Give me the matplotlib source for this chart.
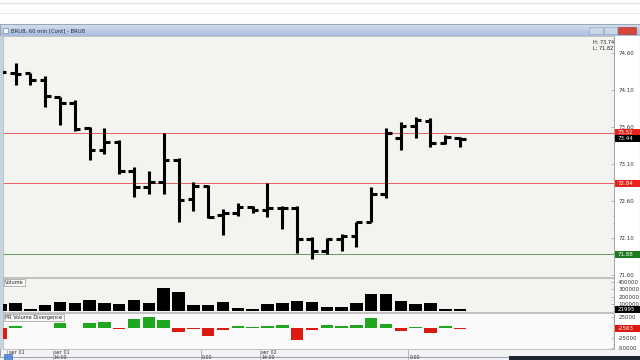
import matplotlib
matplotlib.use("Agg")
import matplotlib.pyplot as plt
from matplotlib.patches import Rectangle
import numpy as np

# ---------------- data ----------------
opens  = [74.38, 74.33, 74.33, 74.24, 74.01, 73.93, 73.59, 73.29, 73.40, 73.00,
          72.79, 72.86, 73.15, 72.63, 72.80, 72.41, 72.44, 72.52, 72.48, 72.50,
          72.51, 72.08, 71.93, 72.08, 72.13, 72.31, 72.70, 73.45, 73.61, 73.68,
          73.38, 73.45]
highs  = [74.40, 74.47, 74.33, 74.29, 74.01, 73.96, 73.60, 73.58, 73.42, 73.06,
          73.00, 73.52, 73.18, 72.86, 72.82, 72.49, 72.57, 72.53, 72.84, 72.53,
          72.53, 72.11, 72.10, 72.15, 72.32, 72.79, 73.58, 73.67, 73.74, 73.72,
          73.49, 73.46]
lows   = [74.30, 74.17, 74.17, 73.87, 73.63, 73.54, 73.15, 73.24, 72.96, 72.66,
          72.70, 72.70, 72.31, 72.46, 72.37, 72.14, 72.40, 72.44, 72.38, 72.22,
          71.90, 71.82, 71.88, 71.93, 71.98, 72.31, 72.64, 73.29, 73.45, 73.33,
          73.37, 73.33]
closes = [74.35, 74.32, 74.24, 74.02, 73.93, 73.57, 73.29, 73.40, 73.00, 72.79,
          72.86, 73.15, 72.62, 72.80, 72.39, 72.44, 72.52, 72.48, 72.50, 72.51,
          72.08, 71.93, 72.08, 72.13, 72.31, 72.70, 73.52, 73.61, 73.69, 73.39,
          73.46, 73.44]
volumes = [97000, 115000, 28000, 79000, 125000, 111000, 157000, 106000, 93000, 157000,
           106000, 315000, 259000, 88000, 79000, 130000, 37000, 23000, 97000, 111000,
           139000, 130000, 55000, 55000, 106000, 231000, 231000, 139000, 93000, 111000,
           23000, 21995]
divergence = [-27000, 4000, -2000, -2000, 12000, -1000, 10000, 14000, -4000, 20000,
              25000, 19000, -10000, -3000, -20000, -6000, 4000, 2000, 4000, 6000,
              -30000, -7000, 5000, 3000, 5000, 23000, 9000, -8000, 2000, -13000,
              4000, -3000]
price_ticks = [74.60, 74.10, 73.60, 73.10, 72.60, 72.10, 71.60]
volume_ticks = [400000, 300000, 200000, 100000]
div_ticks = [25000, -25000, -50000]
red_levels = [73.52, 72.84]
green_level = 71.88
last_price = 73.44
last_volume = 21995
last_div = -2563
high_low = (73.74, 71.82)
date_labels = [(0.45, "авг 01"), (3.5, "авг 01"), (17.5, "авг 02")]
time_labels = [(3.5, "14:00"), (13.5, "0:00"), (17.5, "14:00"), (27.5, "0:00")]
title = "BRU8, 60 min [Cont] - BRU8"

# ---------------- layout helpers ----------------
W, H = 640, 360
fig = plt.figure(figsize=(6.4, 3.6), dpi=100)
fig.patch.set_facecolor("white")

def px_axes(x0, y0, x1, y1, **kw):
    return fig.add_axes([x0 / W, 1 - y1 / H, (x1 - x0) / W, (y1 - y0) / H], **kw)

# chrome overlay (pixel coordinates)
bg = px_axes(0, 0, 640, 360)
bg.set_xlim(0, W); bg.set_ylim(H, 0); bg.axis("off"); bg.set_zorder(-5)
bg.plot([0, 640], [3, 3], color="#e2e2e2", lw=0.8)
bg.plot([0, 640], [13, 13], color="#e8e8e8", lw=0.8)
grad = np.linspace(0, 1, 20).reshape(-1, 1)
bg.imshow(grad, extent=(0, 640, 36, 24), cmap=matplotlib.colors.LinearSegmentedColormap.from_list(
    "tb", ["#d4e0f0", "#a8bedb"]), aspect="auto", zorder=1)
bg.add_patch(Rectangle((0, 24), 640, 333, fill=False, ec="#9aa7b8", lw=0.8, zorder=2))
bg.text(11, 30.5, title, fontsize=3.8, color="#1a2a40", va="center", ha="left", zorder=3)
bg.add_patch(Rectangle((2.5, 27.5), 5, 5, fc="#f4f4f4", ec="#6b7b90", lw=0.4, zorder=3))
bg.add_patch(Rectangle((589, 26.5), 14, 7.5, fc="#c9d6e8", ec="#8fa2bd", lw=0.4, zorder=3))
bg.add_patch(Rectangle((604, 26.5), 13, 7.5, fc="#c9d6e8", ec="#8fa2bd", lw=0.4, zorder=3))
bg.add_patch(Rectangle((618, 26.5), 18, 7.5, fc="#d8453a", ec="#a02a22", lw=0.4, zorder=3))
bg.add_patch(Rectangle((0, 36), 3, 313, fc="#c8d3e0", ec="none", zorder=2))
bg.add_patch(Rectangle((614, 36), 26, 313, fc="white", ec="none", zorder=1))
bg.add_patch(Rectangle((0, 349), 640, 11, fc="#f4f4f4", ec="none", zorder=1))
bg.add_patch(Rectangle((4, 354), 8, 6, fc="#5a8fd8", ec="#2d5ea8", lw=0.4, zorder=3))
bg.add_patch(Rectangle((509, 355.5), 131, 4.5, fc="#1d2430", ec="none", zorder=3))

LEFT, RIGHT = 3, 614
x0_px, dx_px = 0.7, 14.82
xlim = ((LEFT - x0_px) / dx_px, (RIGHT - x0_px) / dx_px)
idx = np.arange(len(opens))
lab_fs = 4.0
lab_col = "#333333"

def style_panel(ax, fc):
    ax.set_facecolor(fc)
    ax.set_xlim(*xlim)
    ax.set_xticks([])
    for s in ["top", "left", "bottom"]:
        ax.spines[s].set_color("#b8b8b8"); ax.spines[s].set_linewidth(0.6)
    ax.spines["right"].set_color("#999999"); ax.spines["right"].set_linewidth(0.6)
    ax.yaxis.tick_right()
    ax.tick_params(axis="y", which="both", direction="in", length=2, width=0.4,
                   colors="#888888", labelsize=lab_fs, labelcolor=lab_col, pad=3)
    ax.tick_params(axis="y", which="minor", length=1)

boxes = []  # (axes, value, text, facecolor) drawn on top overlay later

# ---------------- price panel ----------------
ax = px_axes(LEFT, 36, RIGHT, 277)
style_panel(ax, "#f3f3f0")
ylo = 74.60 - (277 - 53) / 74.0
yhi = 74.60 + (53 - 36) / 74.0
ax.set_ylim(ylo, yhi)
ax.set_yticks(price_ticks)
ax.set_yticklabels([f"{v:.2f}" for v in price_ticks])
ax.set_yticks(np.arange(71.6, 74.81, 0.1), minor=True)
for lv in red_levels:
    ax.axhline(lv, color="#e54848", lw=0.6, zorder=1)
ax.axhline(green_level, color="#4f8a4f", lw=0.6, zorder=1)
tick = 0.38
ax.vlines(idx, lows, highs, color="black", lw=2.2, zorder=3)
ax.hlines(opens, idx - tick, idx, color="black", lw=2.2, zorder=3)
ax.hlines(closes, idx, idx + tick, color="black", lw=2.2, zorder=3)
for lv in red_levels:
    boxes.append((ax, lv, f"{lv:.2f}", "#e8231b"))
boxes.append((ax, last_price, f"{last_price:.2f}", "black"))
boxes.append((ax, green_level, f"{green_level:.2f}", "#1d7a1d"))
ax.text(0.9995, 0.985, f"H: {high_low[0]:.2f}", transform=ax.transAxes, fontsize=3.6,
        ha="right", va="top", color="#222222")
ax.text(0.9995, 0.96, f"L: {high_low[1]:.2f}", transform=ax.transAxes, fontsize=3.6,
        ha="right", va="top", color="#222222")

# ---------------- volume panel ----------------
axv = px_axes(LEFT, 278, RIGHT, 312)
style_panel(axv, "#f3f3f0")
axv.set_ylim(-(312 - 311) / 7.2 * 1e5, (311 - 278) / 7.2 * 1e5)
axv.bar(idx, volumes, width=0.84, color="black", zorder=3)
axv.set_yticks(volume_ticks)
axv.set_yticklabels([str(v) for v in volume_ticks])
axv.set_yticks(np.arange(0, 450001, 50000), minor=True)
boxes.append((axv, last_volume, str(last_volume), "black"))
axv.text(0.004, 0.93, "Volume", transform=axv.transAxes, fontsize=3.6, ha="left", va="top",
         color="#222222", bbox=dict(boxstyle="square,pad=0.2", fc="#f8f8f8", ec="#888888", lw=0.4))

# ---------------- divergence panel ----------------
axd = px_axes(LEFT, 313, RIGHT, 349)
style_panel(axd, "#fafafa")
ppx = 25000 / 10.35
axd.set_ylim(-(349 - 327.5) * ppx, (327.5 - 313) * ppx)
cols = ["#1fa81f" if v >= 0 else "#dd1a12" for v in divergence]
axd.bar(idx, divergence, width=0.84, color=cols, zorder=3)
axd.set_yticks(div_ticks)
axd.set_yticklabels([str(v) for v in div_ticks])
axd.set_yticks(np.arange(-50000, 30001, 5000), minor=True)
boxes.append((axd, last_div, str(last_div), "#dd1a12"))
axd.text(0.004, 0.95, "PR Volume Divergence", transform=axd.transAxes, fontsize=3.6,
         ha="left", va="top", color="#222222",
         bbox=dict(boxstyle="square,pad=0.2", fc="#f8f8f8", ec="#888888", lw=0.4))

# ---------------- time axis ----------------
axt = px_axes(LEFT, 349, RIGHT, 360)
axt.set_xlim(*xlim); axt.set_ylim(11, 0); axt.axis("off")
for pos, lab in date_labels:
    axt.text(pos + 0.08, 3.0, lab, fontsize=3.4, ha="left", va="center", color="#333333")
for pos, lab in time_labels:
    axt.text(pos + 0.08, 8.6, lab, fontsize=3.4, ha="left", va="center", color="#333333")
for pos, _ in time_labels:
    axt.plot([pos, pos], [0.5, 11], color="#9a9a9a", lw=0.5)
axt.plot([0.45, 0.45], [0.5, 5], color="#9a9a9a", lw=0.5)

# ---------------- value boxes on top overlay ----------------
fg = px_axes(0, 0, 640, 360)
fg.set_xlim(0, W); fg.set_ylim(H, 0); fg.axis("off"); fg.set_zorder(20)
fg.patch.set_alpha(0)
for a, val, txt, fc in boxes:
    ypx = H - a.transData.transform((0, val))[1]
    fg.add_patch(Rectangle((614.5, ypx - 3.6), 25.5, 7.2, fc=fc, ec="none"))
    fg.text(618, ypx, txt, fontsize=lab_fs, color="white", va="center", ha="left")

fig.savefig("out.png", dpi=100)
